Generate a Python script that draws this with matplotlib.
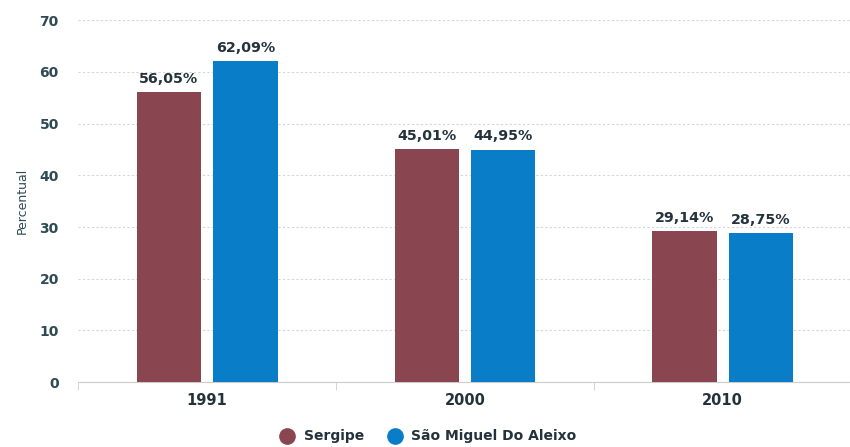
import matplotlib.pyplot as plt
import numpy as np

years = ['1991', '2000', '2010']
sergipe = [56.05, 45.01, 29.14]
sao_miguel = [62.09, 44.95, 28.75]
labels_sergipe = ['56,05%', '45,01%', '29,14%']
labels_sao_miguel = ['62,09%', '44,95%', '28,75%']

c_red = '#8a4650'
c_blue = '#0a7dc9'
c_txt = '#24323c'

fig = plt.figure(figsize=(8.5, 4.47), dpi=100)
ax = fig.add_axes([0.092, 0.145, 0.91, 0.81])

x = np.arange(len(years))
w = 0.25
gap = 0.046
b1 = ax.bar(x - w / 2 - gap / 2, sergipe, w, color=c_red, label='Sergipe', zorder=3)
b2 = ax.bar(x + w / 2 + gap / 2, sao_miguel, w, color=c_blue, label='São Miguel Do Aleixo', zorder=3)

for bars, labs in [(b1, labels_sergipe), (b2, labels_sao_miguel)]:
    for r, t in zip(bars, labs):
        ax.text(r.get_x() + r.get_width() / 2, r.get_height() + 1.2, t, family='DejaVu Sans',
                ha='center', va='bottom', fontsize=10.3, fontweight='bold', color=c_txt)

ax.set_xlim(-0.5, 2.5)
ax.set_ylim(0, 70)
ax.set_yticks(range(0, 71, 10))
ax.set_xticks(x)
ax.set_xticklabels(years, fontsize=10.5, fontweight='bold', color=c_txt)
ax.set_xticks([-0.5, 0.5, 1.5, 2.5], minor=True)
ax.tick_params(axis='x', which='major', length=0, pad=8)
ax.tick_params(axis='x', which='minor', length=6, color='#cccccc')
ax.tick_params(axis='y', length=0, pad=14, labelsize=10, labelcolor='#2f4a55')
for lab in ax.get_yticklabels():
    lab.set_fontweight('bold')
ax.grid(axis='y', linestyle=(0, (2, 2)), color='#d5d5d5', linewidth=0.8, zorder=0)
for s in ['top', 'right', 'left']:
    ax.spines[s].set_visible(False)
ax.spines['bottom'].set_color('#cccccc')
ax.set_ylabel('Percentual', fontsize=9, color='#2f4a55', labelpad=8)

h = [plt.Line2D([], [], marker='o', linestyle='', markersize=11, color=c) for c in (c_red, c_blue)]
leg = fig.legend(h, ['Sergipe', 'São Miguel Do Aleixo'], loc='lower center',
                 bbox_to_anchor=(0.5, -0.02), ncol=2, frameon=False, handletextpad=0.2,
                 columnspacing=1.2, prop={'weight': 'bold', 'size': 10})
for t in leg.get_texts():
    t.set_color(c_txt)

fig.savefig('out.png', dpi=100)
